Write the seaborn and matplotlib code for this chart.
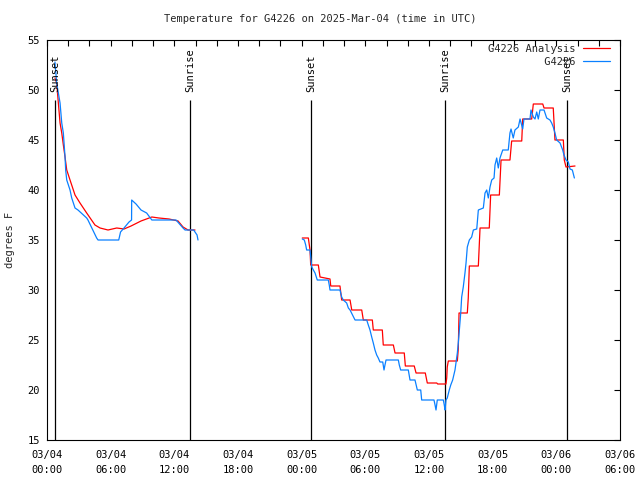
import numpy as np
import pandas as pd
import matplotlib
matplotlib.use("Agg")
import matplotlib.pyplot as plt
import seaborn as sns

# ---------------- data (hours since 2025-03-04 00:00 UTC, deg F) ----------------
analysis_hours_1 = [0.75, 0.91, 1.07, 1.23, 1.39, 1.54, 1.70, 1.86, 2.17, 2.64, 3.11, 3.74,
                    4.52, 5.00, 5.75, 6.57, 7.26, 7.92, 8.86, 9.88, 10.54, 11.50, 12.35,
                    12.82, 13.29, 13.95]
analysis_temp_1 = [51.2, 50.7, 48.7, 46.7, 45.7, 44.5, 43.3, 42.0, 41.0, 39.5, 38.7, 37.7,
                   36.5, 36.2, 36.0, 36.2, 36.1, 36.4, 36.9, 37.3, 37.2, 37.1, 36.9,
                   36.3, 36.0, 36.0]

analysis_hours_2 = [24.06, 24.63, 24.72, 24.79, 24.85, 25.57, 25.73, 26.67, 26.74, 27.61,
                    27.77, 28.56, 28.72, 29.66, 29.81, 30.66, 30.75, 31.60, 31.69, 32.64,
                    32.80, 33.67, 33.77, 34.61, 34.78, 35.65, 35.84, 36.73, 36.82, 37.60,
                    37.67, 37.72, 37.82, 38.67, 38.76, 38.83, 39.61, 39.70, 39.80, 40.65,
                    40.81, 41.68, 41.81, 42.63, 42.79, 43.63, 43.79, 44.74, 44.83, 45.68,
                    45.83, 46.72, 46.84, 47.71, 47.87, 48.66, 48.75, 48.91, 49.76]
analysis_temp_2 = [35.2, 35.2, 34.5, 34.0, 32.5, 32.5, 31.3, 31.1, 30.4, 30.4,
                   29.0, 29.0, 28.0, 28.0, 27.0, 27.0, 26.0, 26.0, 24.5, 24.5,
                   23.7, 23.7, 22.4, 22.4, 21.7, 21.7, 20.7, 20.7, 20.6, 20.6,
                   21.2, 22.3, 22.9, 22.9, 24.1, 27.7, 27.7, 29.2, 32.4, 32.4,
                   36.2, 36.2, 39.5, 39.5, 43.0, 43.0, 44.9, 44.9, 47.1, 47.1,
                   48.6, 48.6, 48.2, 48.2, 45.0, 45.0, 43.0, 42.3, 42.4]

station_hours_1 = [0.75, 0.91, 1.23, 1.39, 1.54, 1.70, 1.76, 1.86, 2.17, 2.33, 2.64, 2.92,
                   3.74, 3.86, 4.68, 4.81, 6.76, 6.93, 7.26, 7.73, 7.97, 7.98, 8.39, 8.86,
                   9.39, 9.88, 12.16, 12.82, 13.01, 13.82, 14.14, 14.23]
station_temp_1 = [52.8, 50.7, 48.7, 46.7, 45.7, 43.3, 42.0, 41.0, 40.0, 39.2, 38.2, 38.0,
                  37.2, 37.0, 35.2, 35.0, 35.0, 35.8, 36.2, 36.8, 37.0, 39.0, 38.6, 38.0,
                  37.7, 37.0, 37.0, 36.2, 36.0, 36.0, 35.5, 35.0]

station_hours_2 = [24.06, 24.25, 24.38, 24.47, 24.79, 24.88, 24.95, 25.10, 25.26, 25.47,
                   26.51, 26.60, 26.67, 27.61, 27.77, 27.92, 28.24, 28.40, 28.56, 29.03,
                   30.13, 30.28, 30.44, 30.60, 30.75, 30.91, 31.07, 31.22, 31.38, 31.64,
                   31.76, 31.85, 31.95, 33.11, 33.20, 33.33, 34.05, 34.21, 34.68, 34.90,
                   35.22, 35.31, 36.47, 36.57, 36.66, 36.78, 37.35, 37.44, 37.51, 37.60,
                   37.72, 37.91, 38.05, 38.23, 38.45, 38.67, 38.76, 38.86, 38.99, 39.08,
                   39.23, 39.39, 39.49, 39.61, 39.80, 40.02, 40.18, 40.50, 40.65, 41.12,
                   41.28, 41.44, 41.59, 41.75, 41.91, 42.13, 42.22, 42.38, 42.53, 42.69,
                   42.95, 43.47, 43.63, 43.73, 43.94, 44.10, 44.42, 44.58, 44.83, 44.95,
                   45.52, 45.61, 45.83, 45.99, 46.15, 46.30, 46.46, 46.84, 47.09, 47.40,
                   47.56, 47.71, 47.87, 48.03, 48.35, 48.60, 48.72, 48.91, 49.13, 49.29,
                   49.51, 49.70]
station_temp_2 = [35.1, 35.0, 34.5, 34.0, 34.0, 33.0, 32.3, 32.0, 31.7, 31.0,
                  31.0, 30.5, 30.0, 30.0, 29.3, 29.0, 28.7, 28.2, 28.0, 27.0,
                  27.0, 26.5, 26.0, 25.3, 24.7, 24.0, 23.5, 23.2, 22.8, 22.8,
                  22.0, 22.5, 23.0, 23.0, 22.5, 22.0, 22.0, 21.0, 21.0, 20.0,
                  20.0, 19.0, 19.0, 18.5, 18.0, 19.0, 19.0, 18.5, 18.0, 19.0,
                  19.2, 20.0, 20.5, 21.0, 22.0, 23.7, 24.7, 26.0, 27.7, 29.3,
                  30.3, 31.7, 32.7, 34.3, 35.0, 35.3, 36.0, 36.1, 38.0, 38.2,
                  39.7, 40.0, 39.2, 40.3, 41.0, 41.2, 42.5, 43.2, 42.2, 43.2,
                  44.0, 44.0, 45.7, 46.1, 45.2, 46.0, 46.3, 47.1, 46.1, 47.1,
                  47.1, 48.0, 47.3, 47.1, 47.8, 47.1, 48.0, 48.0, 47.2, 47.0,
                  46.7, 46.3, 45.7, 45.0, 44.7, 44.0, 43.5, 43.0, 42.8, 42.1,
                  42.0, 41.2]

sun_event_hours = [0.75, 13.48, 24.88, 37.51, 49.0]
sun_event_labels = ["Sunset", "Sunrise", "Sunset", "Sunrise", "Sunset"]

series_names = ["G4226 Analysis", "G4226"]
series_colors = ["#ff0000", "#0a80ff"]
base_time = pd.Timestamp("2025-03-04 00:00")
title_text = "Temperature for G4226 on 2025-Mar-04 (time in UTC)"
y_label = "degrees F"

# ---------------- build long table ----------------
frames = []
for name, seg, hrs, tmp in [
    (series_names[0], "a1", analysis_hours_1, analysis_temp_1),
    (series_names[0], "a2", analysis_hours_2, analysis_temp_2),
    (series_names[1], "s1", station_hours_1, station_temp_1),
    (series_names[1], "s2", station_hours_2, station_temp_2),
]:
    frames.append(pd.DataFrame({"hour": hrs, "temp": tmp, "series": name, "segment": seg}))
df = pd.concat(frames, ignore_index=True)

# ---------------- plot ----------------
sns.set_style("white")
mono = ["DejaVu Sans Mono"]
plt.rcParams["font.family"] = mono
fs = 7.5

fig = plt.figure(figsize=(6.4, 4.8), dpi=100)
ax = fig.add_axes([47 / 640, 1 - 440 / 480, 573 / 640, 400 / 480])

sns.lineplot(data=df, x="hour", y="temp", hue="series", units="segment",
             estimator=None, sort=False, hue_order=series_names,
             palette=dict(zip(series_names, series_colors)), lw=0.9, ax=ax)

# sunrise / sunset markers
ax.vlines(sun_event_hours, 15, 49.0, color="black", lw=0.9, zorder=1)
for h, lab in zip(sun_event_hours, sun_event_labels):
    ax.text(h, 49.75, lab, rotation=90, ha="center", va="bottom", fontsize=fs,
            family=mono, color="black")

ax.set_xlim(0, 54)
ax.set_ylim(15, 55)
major = np.arange(0, 55, 6)
ax.set_xticks(major)
ax.set_xticks(np.arange(0, 55, 2), minor=True)
ax.set_xticklabels([(base_time + pd.Timedelta(hours=float(h))).strftime("%m/%d\n%H:%M")
                    for h in major], fontsize=fs, linespacing=1.6)
ax.set_yticks(np.arange(15, 56, 5))
ax.set_yticklabels([str(v) for v in range(15, 56, 5)], fontsize=fs)
ax.tick_params(axis="both", which="both", direction="in", top=True, right=True,
               length=4.5, width=0.8, color="black", labelcolor="black")
ax.tick_params(axis="x", which="major", pad=7)
ax.tick_params(axis="y", which="major", pad=5)
for s in ax.spines.values():
    s.set_color("black")
    s.set_linewidth(0.8)
ax.set_xlabel("")
ax.set_ylabel("")
fig.text(10 / 640, 1 - 240 / 480, y_label, rotation=90, ha="center", va="center",
         fontsize=fs, family=mono)
fig.text(0.5, 1 - 19 / 480, title_text, ha="center", va="center", fontsize=fs, family=mono)

handles, labels = ax.get_legend_handles_labels()
width = max(len(l) for l in labels)
labels = [l.rjust(width) for l in labels]
ax.legend(handles, labels, loc="upper right", bbox_to_anchor=((610 - 47) / 573, (440 - 44) / 400),
          frameon=False, markerfirst=False, handlelength=2.6, handletextpad=0.75,
          borderpad=0, borderaxespad=0, labelspacing=0.25,
          prop={"family": mono, "size": fs})

fig.savefig("out.png", dpi=100)
